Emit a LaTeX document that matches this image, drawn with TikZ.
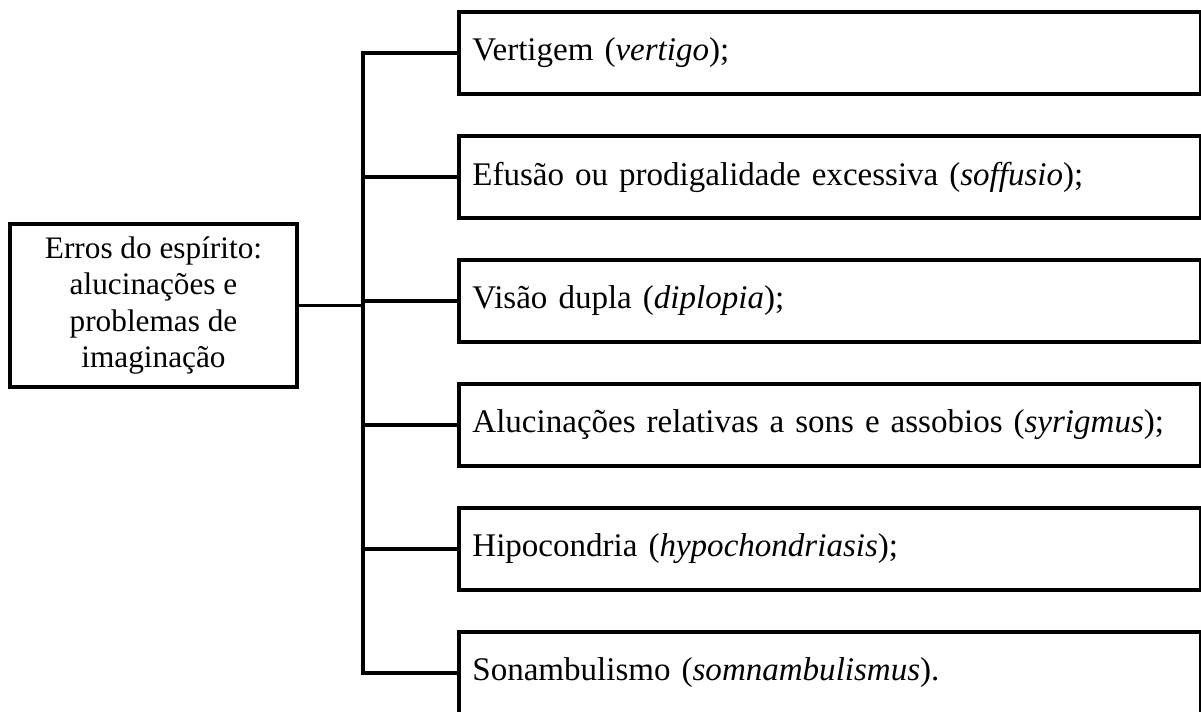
\documentclass[tikz,border=0pt]{standalone}
\usepackage{fontspec}
\setmainfont{Liberation Serif}
\usepackage{tikz}
\usetikzlibrary{positioning,calc}

\begin{document}
\begin{tikzpicture}[
  x=0.02cm, y=-0.02cm,
  line width=2.2pt,
  rootbox/.style={rectangle, draw, line width=2.2pt, minimum width=5.74cm, minimum height=3.26cm, align=center, inner sep=2pt, font=\fontsize{17.8}{20.6}\selectfont},
  itembox/.style={rectangle, draw, line width=2.2pt, anchor=west, minimum width=14.84cm, minimum height=1.64cm, text width=14.3cm, align=left, inner xsep=0.2cm, font=\fontsize{18.8}{21}\selectfont},
  link/.style={line width=2.2pt}
]
  \useasboundingbox (0,0) rectangle (1201,711);

  \node[rootbox] (root) at (153.5,305.5) {Erros do espírito:\\alucinações e\\problemas de\\imaginação};

  \node[itembox] (vert) at (457,53) {Vertigem (\textit{vertigo});};
  \node[itembox] (effus) at (457,177) {Efusão ou prodigalidade excessiva (\textit{soffusio});};
  \node[itembox] (dipl) at (457,301) {Visão dupla (\textit{diplopia});};
  \node[itembox] (syri) at (457,425) {Alucinações relativas a sons e assobios (\textit{syrigmus});};
  \node[itembox] (hypo) at (457,549) {Hipocondria (\textit{hypochondriasis});};
  \node[itembox] (somn) at (457,673) {Sonambulismo (\textit{somnambulismus}).};

  \coordinate (trunk) at (363,0);

  \draw[link] (vert.west) -- (vert.west -| trunk) -- (somn.west -| trunk) -- (somn.west);
  \foreach \n in {effus,dipl,syri,hypo}
    \draw[link] (\n.west) -- (\n.west -| trunk);
  \draw[link] (root.east) -- (root.east -| trunk);
\end{tikzpicture}
\end{document}
